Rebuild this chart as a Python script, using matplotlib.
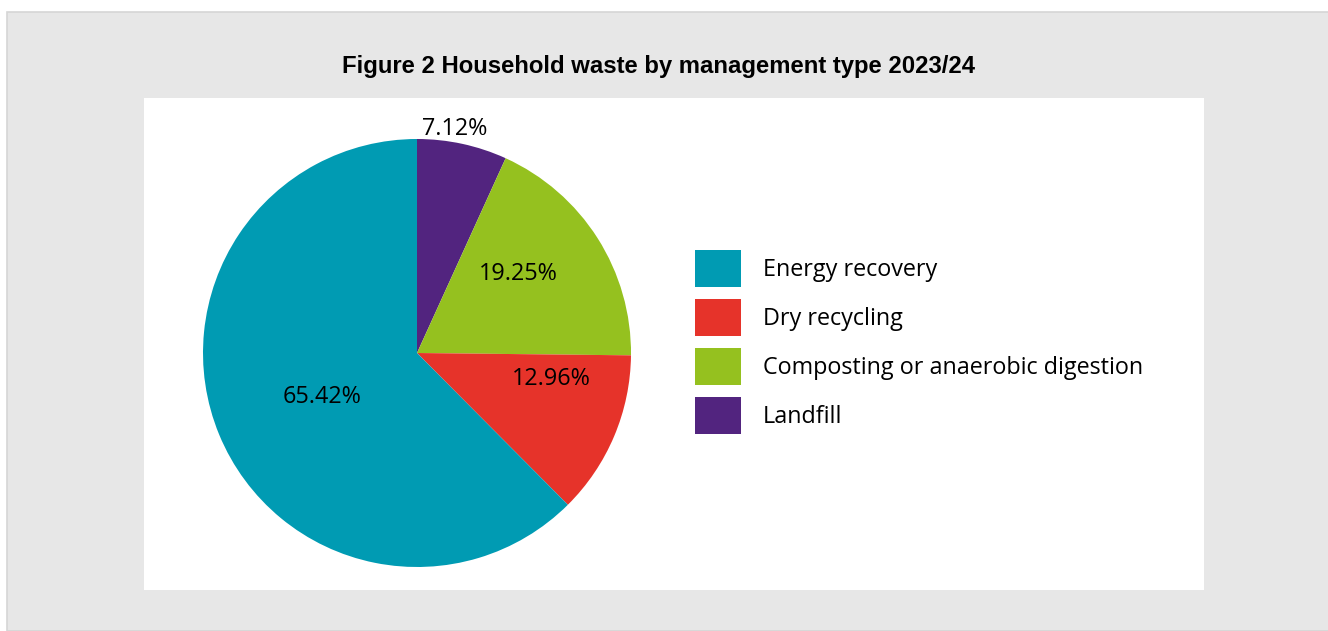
import matplotlib.pyplot as plt
from matplotlib.patches import Rectangle, Patch
import numpy as np

# data, in drawing order (clockwise from 12 o'clock)
categories = ["Landfill", "Composting or anaerobic digestion", "Dry recycling", "Energy recovery"]
shares = [7.12, 19.25, 12.96, 65.42]
colors = ["#52247F", "#95C11F", "#E6332A", "#009BB3"]
legend_order = ["Energy recovery", "Dry recycling", "Composting or anaerobic digestion", "Landfill"]

# label placement (radius, angle in degrees) per wedge, same order as categories
label_pos = [(1.06, 80.5), (0.60, 38), (0.64, -11), (0.49, -155)]

W, H = 1328, 631
fig = plt.figure(figsize=(W / 100, H / 100), dpi=100)
fig.patch.set_facecolor("white")

# grey outer box and white inner panel
fig.add_artist(Rectangle((7 / W, 0), 1.0, 1 - 12 / H, transform=fig.transFigure,
                         facecolor="#E7E7E7", edgecolor="#D6D6D6", lw=1.2, zorder=0))
fig.add_artist(Rectangle((144 / W, 1 - 590 / H), (1204 - 144) / W, (590 - 98) / H,
                         transform=fig.transFigure, facecolor="white", edgecolor="none", zorder=1))

fig.text(659 / W, 1 - 67 / H, "Figure 2 Household waste by management type 2023/24",
         ha="center", va="center", fontsize=17.2, fontweight="bold",
         family="Liberation Sans", zorder=3)

ax = fig.add_axes([(417 - 214) / W, (H - 567) / H, 428 / W, 428 / H])
ax.set_zorder(2)
ax.patch.set_visible(False)
wedges, _ = ax.pie(shares, colors=colors, startangle=90, counterclock=False,
                   radius=1.0, wedgeprops=dict(linewidth=0))
for v, (r, a) in zip(shares, label_pos):
    t = np.deg2rad(a)
    ax.text(r * np.cos(t), r * np.sin(t), f"{v:.2f}%", ha="center", va="center",
            fontsize=16.8, family="Open Sans", color="black")
ax.set_xlim(-1, 1)
ax.set_ylim(-1, 1)
ax.set_aspect("equal")
ax.axis("off")

handles = [Patch(facecolor=colors[categories.index(c)], edgecolor="none") for c in legend_order]
leg = fig.legend(handles, legend_order, loc="upper left",
                 bbox_to_anchor=(695 / W, 1 - 250 / H), frameon=False,
                 prop=dict(family="Open Sans", size=16.8), handlelength=1.97,
                 handleheight=2.08, handletextpad=0.95, labelspacing=0.5,
                 borderpad=0, borderaxespad=0)
leg.set_zorder(3)

fig.savefig("out.png", dpi=100)
